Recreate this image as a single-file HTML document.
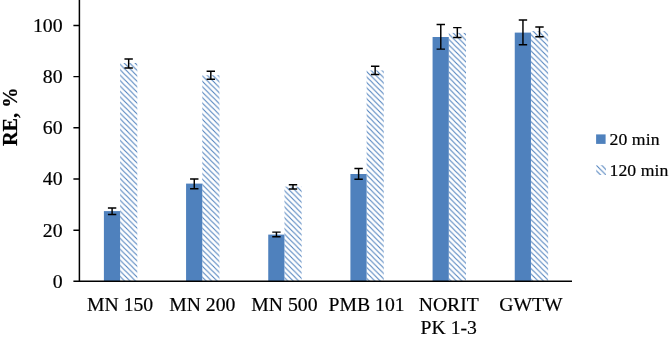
<!DOCTYPE html>
<html><head><meta charset="utf-8"><title>RE chart</title>
<style>
html,body{margin:0;padding:0;background:#fff;}
body{width:669px;height:340px;overflow:hidden;}
svg{display:block;}
text{font-family:"Liberation Serif","Times New Roman",serif;fill:#000;stroke:#000;stroke-width:0.2px;}
</style></head><body>
<svg width="669" height="340" viewBox="0 0 669 340">
<defs>
<pattern id="hatch" patternUnits="userSpaceOnUse" width="5.44" height="5.44" x="0" y="4.06">
<path d="M-1,-1 L6.44,6.44 M-1,4.44 L1,6.44 M4.44,-1 L6.44,1" stroke="#4f81bd" stroke-width="1.08" fill="none"/>
</pattern>
<pattern id="hatch2" patternUnits="userSpaceOnUse" width="5.44" height="5.44" x="596.2" y="165.2">
<path d="M-1,-1 L6.44,6.44 M-1,4.44 L1,6.44 M4.44,-1 L6.44,1" stroke="#4f81bd" stroke-width="1.08" fill="none"/>
</pattern>
</defs>
<rect width="669" height="340" fill="#fff"/>

<rect x="103.90" y="211.10" width="16.2" height="70.25" fill="#4f81bd"/>
<rect x="120.10" y="63.00" width="17.2" height="218.35" fill="url(#hatch)"/>
<rect x="186.07" y="183.60" width="16.2" height="97.75" fill="#4f81bd"/>
<rect x="202.27" y="75.20" width="17.2" height="206.15" fill="url(#hatch)"/>
<rect x="268.24" y="234.60" width="16.2" height="46.75" fill="#4f81bd"/>
<rect x="284.44" y="186.60" width="17.2" height="94.75" fill="url(#hatch)"/>
<rect x="350.41" y="174.00" width="16.2" height="107.35" fill="#4f81bd"/>
<rect x="366.61" y="70.40" width="17.2" height="210.95" fill="url(#hatch)"/>
<rect x="432.58" y="37.00" width="16.2" height="244.35" fill="#4f81bd"/>
<rect x="448.78" y="32.90" width="17.2" height="248.45" fill="url(#hatch)"/>
<rect x="514.75" y="32.60" width="16.2" height="248.75" fill="#4f81bd"/>
<rect x="530.95" y="31.10" width="17.2" height="250.25" fill="url(#hatch)"/>
<path d="M79.4,0 V281.35 M73.4,281.35 H572.0" stroke="#000" stroke-width="1.5" fill="none"/>
<path d="M73.4,230.17 H79.4 M73.4,178.99 H79.4 M73.4,127.81 H79.4 M73.4,76.63 H79.4 M73.4,25.45 H79.4" stroke="#000" stroke-width="1.45" fill="none"/>
<path d="M112.10,208.00 V214.50 M107.90,208.00 H116.30 M107.90,214.50 H116.30 M128.65,59.00 V67.90 M124.45,59.00 H132.85 M124.45,67.90 H132.85 M194.27,178.90 V188.80 M190.07,178.90 H198.47 M190.07,188.80 H198.47 M210.82,71.20 V79.30 M206.62,71.20 H215.02 M206.62,79.30 H215.02 M276.44,232.10 V236.80 M272.24,232.10 H280.64 M272.24,236.80 H280.64 M292.99,184.80 V189.00 M288.79,184.80 H297.19 M288.79,189.00 H297.19 M358.61,168.50 V179.20 M354.41,168.50 H362.81 M354.41,179.20 H362.81 M375.16,66.20 V74.50 M370.96,66.20 H379.36 M370.96,74.50 H379.36 M440.78,24.40 V49.10 M436.58,24.40 H444.98 M436.58,49.10 H444.98 M457.33,27.60 V37.50 M453.13,27.60 H461.53 M453.13,37.50 H461.53 M522.95,19.90 V44.70 M518.75,19.90 H527.15 M518.75,44.70 H527.15 M539.50,26.90 V36.70 M535.30,26.90 H543.70 M535.30,36.70 H543.70" stroke="#000" stroke-width="1.45" fill="none"/>
<text x="62.6" y="287.70" font-size="19.8" text-anchor="end">0</text>
<text x="62.6" y="236.52" font-size="19.8" text-anchor="end">20</text>
<text x="62.6" y="185.34" font-size="19.8" text-anchor="end">40</text>
<text x="62.6" y="134.16" font-size="19.8" text-anchor="end">60</text>
<text x="62.6" y="82.98" font-size="19.8" text-anchor="end">80</text>
<text x="62.6" y="31.80" font-size="19.8" text-anchor="end">100</text>
<text transform="translate(17.2,116.8) rotate(-90)" font-size="20.2" font-weight="bold" text-anchor="middle">RE, %</text>
<text x="120.10" y="311.00" font-size="19.7" text-anchor="middle">MN 150</text>
<text x="202.27" y="311.00" font-size="19.7" text-anchor="middle">MN 200</text>
<text x="284.44" y="311.00" font-size="19.7" text-anchor="middle">MN 500</text>
<text x="366.61" y="311.00" font-size="19.7" text-anchor="middle">PMB 101</text>
<text x="448.78" y="311.00" font-size="19.7" text-anchor="middle">NORIT</text>
<text x="448.78" y="334.00" font-size="19.7" text-anchor="middle">PK 1-3</text>
<text x="530.95" y="311.00" font-size="19.7" text-anchor="middle">GWTW</text>
<rect x="596.1" y="134.4" width="9.5" height="9.5" fill="#4f81bd"/>
<text x="609.5" y="144.7" font-size="17.7" letter-spacing="0.08">20 min</text>
<rect x="596.2" y="165.2" width="9.8" height="9.8" fill="url(#hatch2)"/>
<text x="609.5" y="175.9" font-size="17.7" letter-spacing="0.08">120 min</text>
</svg></body></html>
